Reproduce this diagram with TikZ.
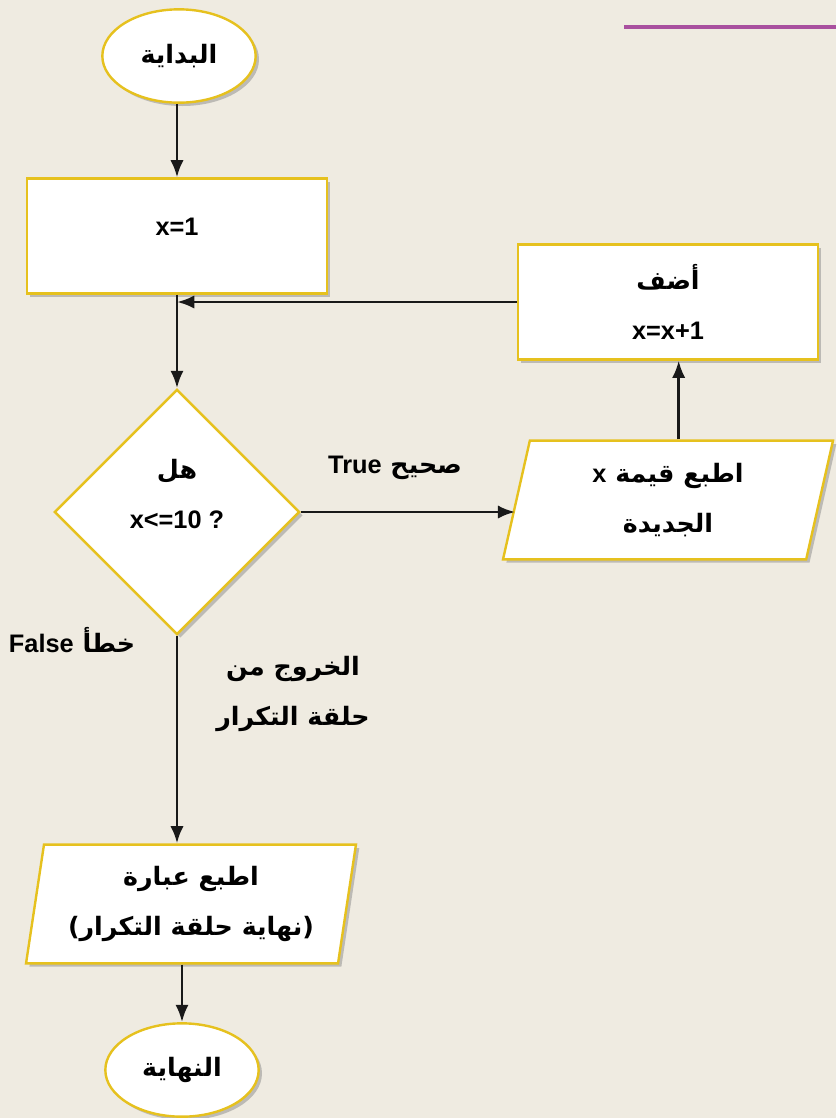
\documentclass[tikz,border=0pt]{standalone}
\usepackage{fontspec}
\setmainfont{Liberation Sans}
\newfontfamily\arabicfont[Script=Arabic]{DejaVu Sans}
\usetikzlibrary{shapes.geometric,shadows,arrows.meta}
\TeXXeTstate=1
\definecolor{pagebg}{HTML}{EFEBE1}
\definecolor{boxline}{HTML}{E6C11E}
\definecolor{rulepurple}{HTML}{A9509F}
\newcommand{\artxt}[1]{{\arabicfont\beginR #1\endR}}

\begin{document}
\begin{tikzpicture}%
  [x=.75pt,y=-.75pt,>={Latex[length=13pt,width=10pt]},
   font=\fontsize{19}{38}\selectfont\bfseries]
  \tikzstyle{shape node}=[draw=boxline,line width=1.8pt,fill=white,
    drop shadow={shadow xshift=2.5pt,shadow yshift=-2.5pt,opacity=.45}]
  \tikzstyle{end node}=[shape node,ellipse,inner sep=0,minimum width=115pt,minimum height=70pt]
  \tikzstyle{box node}=[shape node,rectangle,align=center,minimum width=225pt,minimum height=86pt]
  \tikzstyle{io node}=[shape node,trapezium,trapezium left angle=80,trapezium right angle=100,
    trapezium stretches=true,inner xsep=0pt,align=center,minimum width=248pt,minimum height=89pt]
  \tikzstyle{test node}=[shape node,diamond,align=center,inner sep=0,minimum width=184pt,minimum height=184pt]
  \tikzstyle{txt}=[align=center]
  \tikzstyle{flow}=[->,line width=2.2pt,draw=black!90]
  \useasboundingbox (0,0) rectangle (836,1118);
  \fill[pagebg] (0,0) rectangle (836,1118);
  \draw[rulepurple,line width=3pt] (624,27) -- (836,27);
  % shapes
  \node(start)[end node] at (179,56) {\artxt{البداية}};
  \node(init)[box node,text depth=13.5pt] at (177,236) {x=1};
  \node(cond)[test node,text depth=27pt] at (177,512) {\artxt{هل}\\x<=10 ?};
  \node(add)[box node] at (668,302) {\artxt{أضف}\\x=x+1};
  \node(show)[io node] at (668,500) {\artxt{اطبع قيمة \beginL{\rmfamily x}\endL}\\\artxt{الجديدة}};
  \node(out)[io node] at (191,904) {\artxt{اطبع عبارة}\\\artxt{(نهاية حلقة التكرار)}};
  \node(stop)[end node] at (182,1070) {\artxt{النهاية}};
  % labels
  \node(truelbl)[txt] at (395,468) {\arabicfont\beginR صحيح \beginL{\rmfamily True}\endL\endR};
  \node(falselbl)[txt] at (72,640) {\arabicfont\beginR خطأ \beginL{\rmfamily False}\endL\endR};
  \node(exitlbl)[txt] at (293,694) {\artxt{الخروج من}\\\artxt{حلقة التكرار}};
  % connectors
  \coordinate(join) at (init.south |- add.west);
  \coordinate(up) at ([xshift=8pt]show.north);
  \draw[flow] (start.south -| init.north) -- (init);
  \draw[flow] (init) -- (cond);
  \draw[flow] (add) -- (join);
  \draw[flow] (cond) -- (cond.east -| show.west);
  \draw[flow] (up) -- (up |- add.south);
  \draw[flow] (cond.south) -- (cond.south |- out.north);
  \draw[flow] (stop.north |- out.south) -- (stop);
\end{tikzpicture}
\end{document}
